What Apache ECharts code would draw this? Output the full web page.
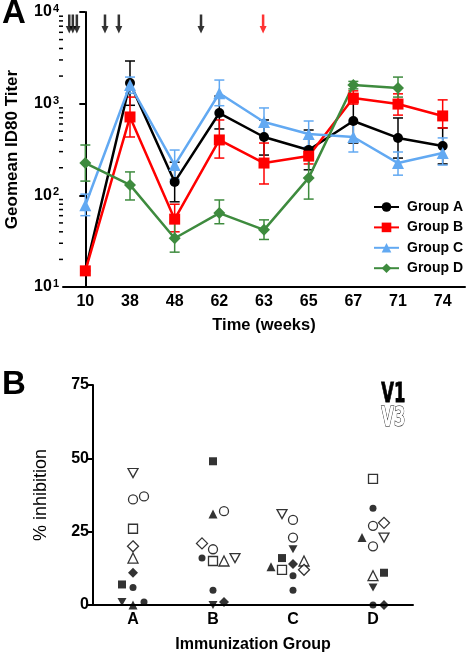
<!DOCTYPE html>
<html><head><meta charset="utf-8">
<script src="https://cdn.jsdelivr.net/npm/echarts@6/dist/echarts.min.js"></script>
<style>html,body{margin:0;padding:0;background:#fff}#c{width:466px;height:655px}</style>
</head><body><div id="c"></div>
<script>
// ---------- Panel A data ----------
const weeks = ['10','38','48','62','63','65','67','71','74'];
const groupA   = [15, 1680, 140, 790, 433, 312, 647, 423, 345];
const groupAHi = [null, 2920, 230, 1210, 664, 516, 1040, 698, 543];
const groupALo = [null, 960, 85, 530, 275, 190, 372, 255, 220];
const groupB   = [15, 716, 55, 402, 225, 268, 1150, 990, 735];
const groupBHi = [null, 1180, 80, 664, 372, 330, 1380, 1280, 1100];
const groupBLo = [null, 433, 40, 255, 133, 220, 990, 750, 543];
const groupC   = [78, 1600, 214, 1300, 630, 466, 433, 225, 290];
const groupCHi = [103, 1950, 312, 1810, 898, 647, 617, 297, 423];
const groupCLo = [60, 1300, 150, 950, 440, 336, 297, 166, 214];
const groupD   = [225, 130, 34, 64, 42, 155, 1600, 1480, null];
const groupDHi = [354, 180, 51, 89, 54, 264, 1750, 1950, null];
const groupDLo = [143, 89, 24, 49, 33, 91, 1450, 1180, null];
// immunization arrows (fractional category position)
const blackArrows = [-0.36, -0.28, -0.19, 0.44, 0.75, 2.59];
const redArrows = [3.98];

// ---------- Panel B data ----------
const immGroups = ['A','B','C','D'];
const v1Circle1     = [6, 16, 10, 33];
const v1Circle2     = [1, 5, 5, 0];
const v1Square      = [7, 49, 16, 11];
const v1Triangle    = [0, 31, 13, 23];
const v1InvTriangle = [1, 0, 19, 6];
const v1Diamond     = [11, 1, 14, 0];
const v3Circle1     = [36, 32, 29, 27];
const v3Circle2     = [37, 19, 23, 20];
const v3Square      = [26, 15, 12, 43];
const v3Triangle    = [16, 15, 15, 10];
const v3InvTriangle = [45, 16, 31, 23];
const v3Diamond     = [20, 21, 12, 28];

// ---------- layout (jitter in px) ----------
const J = 11;
const jitter = {
  v1Circle1: [0, -J, 0, 0], v1Circle2: [J, 0, 0, 0], v1Square: [-J, 0, -J, J],
  v1Triangle: [0, 0, -2*J, -J], v1InvTriangle: [-J, 0, 0, 0], v1Diamond: [0, J, 0, J],
  v3Circle1: [0, J, 0, 0], v3Circle2: [J, 0, 0, 0], v3Square: [0, 0, -J, 0],
  v3Triangle: [0, J, J, 0], v3InvTriangle: [0, 2*J, -J, J], v3Diamond: [0, -J, J, J]
};

const FONT = '"Liberation Sans", Arial, sans-serif';
const BLUE = '#62A9F2', GREEN = '#3E8B3E', RED = '#FF0000';
const INV_TRI = 'path://M0,0 L10,0 L5,9 Z';
const ARROW = 'path://M3.2,0 L6.8,0 L6.8,12 L10,12 L5,20 L0,12 L3.2,12 Z';

function errSeries(color, lo, hi) {
  return {
    type: 'custom', xAxisIndex: 0, yAxisIndex: 0, z: 1, silent: true,
    data: lo.map((l, i) => [i, l, hi[i]]).filter(d => d[1] != null),
    renderItem: function (params, api) {
      const x = api.value(0);
      const p1 = api.coord([x, api.value(2)]), p2 = api.coord([x, api.value(1)]);
      const w = 5, st = { stroke: color, lineWidth: 1.5 };
      return { type: 'group', children: [
        { type: 'line', shape: { x1: p1[0], y1: p1[1], x2: p2[0], y2: p2[1] }, style: st },
        { type: 'line', shape: { x1: p1[0]-w, y1: p1[1], x2: p1[0]+w, y2: p1[1] }, style: st },
        { type: 'line', shape: { x1: p2[0]-w, y1: p2[1], x2: p2[0]+w, y2: p2[1] }, style: st }
      ]};
    }
  };
}
function lineSeries(name, data, color, symbol, size) {
  return {
    name, type: 'line', xAxisIndex: 0, yAxisIndex: 0, data, z: 3,
    symbol, symbolSize: size, showSymbol: true,
    lineStyle: { color, width: 2.5 }, itemStyle: { color },
    connectNulls: false
  };
}
// minor log ticks on the y axis of panel A
const minorVals = [];
[10, 100, 1000].forEach(d => { for (let k = 2; k <= 9; k++) minorVals.push(k * d); });

function scatterSeries(key, data, symbol, size, filled) {
  return {
    type: 'scatter', xAxisIndex: 2, yAxisIndex: 2, z: 5, symbol, symbolSize: size,
    data: data.map((v, i) => ({ value: [i, v], symbolOffset: [jitter[key][i], 0] })),
    itemStyle: filled ? { color: '#000' } : { color: '#fff', borderColor: '#000', borderWidth: 1.3 }
  };
}

const chart = echarts.init(document.getElementById('c'), null, { renderer: 'canvas' });
const option = {
  animation: false,
  backgroundColor: '#fff',
  title: [
    { text: 'A', left: 2, top: -3, padding: 0, textStyle: { fontSize: 33, fontWeight: 'bold', fontFamily: FONT, color: '#000' } },
    { text: 'B', left: 2, top: 368, padding: 0, textStyle: { fontSize: 33, fontWeight: 'bold', fontFamily: FONT, color: '#000' } }
  ],
  legend: {
    data: ['Group A', 'Group B', 'Group C', 'Group D'],
    orient: 'vertical', left: 368, top: 195, itemWidth: 25, itemHeight: 12, itemGap: 6.4,
    textStyle: { fontSize: 14, fontWeight: 'bold', fontFamily: FONT, color: '#000', padding: [0, 0, 0, 3] }
  },
  grid: [
    { left: 63, top: 12, width: 402, height: 275, outerBoundsMode: 'none', containLabel: false },
    { left: 93, top: 385, width: 320, height: 220, outerBoundsMode: 'none', containLabel: false }
  ],
  xAxis: [
    { type: 'category', gridIndex: 0, data: weeks, boundaryGap: true,
      name: 'Time (weeks)', nameLocation: 'middle', nameGap: 30,
      nameTextStyle: { fontSize: 16.5, fontWeight: 'bold', fontFamily: FONT, color: '#000' },
      axisLine: { lineStyle: { color: '#000', width: 2 } },
      axisTick: { alignWithLabel: true, length: 4, lineStyle: { width: 2, color: '#000' } },
      axisLabel: { fontSize: 16, fontWeight: 'bold', fontFamily: FONT, color: '#000', margin: 7 },
      splitLine: { show: false } },
    { type: 'value', gridIndex: 0, min: -0.5, max: 8.5, show: false },
    { type: 'category', gridIndex: 1, data: immGroups, boundaryGap: true,
      name: 'Immunization Group', nameLocation: 'middle', nameGap: 32,
      nameTextStyle: { fontSize: 16, fontWeight: 'bold', fontFamily: FONT, color: '#000' },
      axisLine: { lineStyle: { color: '#000', width: 2 } },
      axisTick: { alignWithLabel: true, length: 4, lineStyle: { width: 2, color: '#000' } },
      axisLabel: { fontSize: 16, fontWeight: 'bold', fontFamily: FONT, color: '#000', margin: 7 },
      splitLine: { show: false } }
  ],
  yAxis: [
    { type: 'log', gridIndex: 0, logBase: 10, min: 10, max: 10000,
      name: 'Geomean ID80 Titer', nameLocation: 'middle', nameGap: 42, nameRotate: 90,
      nameTextStyle: { fontSize: 17, fontWeight: 'bold', fontFamily: FONT, color: '#000' },
      axisLine: { show: true, lineStyle: { color: '#000', width: 2 } },
      axisTick: { show: true, length: 6, lineStyle: { width: 2, color: '#000' } },
      axisLabel: { color: '#000', margin: 4,
        formatter: v => '{b|10}{s|' + Math.round(Math.log10(v)) + '}',
        rich: { b: { fontSize: 16, fontWeight: 'bold', fontFamily: FONT, color: '#000' },
                s: { fontSize: 11, fontWeight: 'bold', fontFamily: FONT, color: '#000', verticalAlign: 'top', padding: [0, 0, 6, 1] } } },
      splitLine: { show: false } },
    { type: 'log', gridIndex: 0, min: 10, max: 10000, show: false },
    { type: 'value', gridIndex: 1, min: 0, max: 75, interval: 25,
      name: '% inhibition', nameLocation: 'middle', nameGap: 43, nameRotate: 90,
      nameTextStyle: { fontSize: 18, fontFamily: FONT, color: '#000' },
      axisLine: { show: true, lineStyle: { color: '#000', width: 2 } },
      axisTick: { show: true, length: 5, lineStyle: { width: 2, color: '#000' } },
      axisLabel: { fontSize: 16, fontWeight: 'bold', fontFamily: FONT, color: '#000', margin: 4 },
      splitLine: { show: false } }
  ],
  graphic: [
    { type: 'text', left: 381, top: 382, scaleX: 0.7,
      style: { text: 'V1', font: 'bold 26px "DejaVu Sans Condensed", sans-serif', fill: '#000', stroke: '#000', lineWidth: 0.8 } },
    { type: 'text', left: 381, top: 406, scaleX: 0.7,
      style: { text: 'V3', font: 'bold 26px "DejaVu Sans Condensed", sans-serif', fill: '#fff', stroke: '#000', lineWidth: 1 } }
  ],
  series: [
    errSeries('#000', groupALo, groupAHi),
    errSeries(RED, groupBLo, groupBHi),
    errSeries(BLUE, groupCLo, groupCHi),
    errSeries(GREEN, groupDLo, groupDHi),
    lineSeries('Group A', groupA, '#000', 'circle', 10),
    lineSeries('Group B', groupB, RED, 'rect', 11),
    lineSeries('Group C', groupC, BLUE, 'triangle', 12),
    lineSeries('Group D', groupD, GREEN, 'diamond', 12),
    { type: 'custom', xAxisIndex: 1, yAxisIndex: 0, silent: true, z: 6, clip: false,
      data: minorVals,
      renderItem: function (params, api) {
        const p = api.coord([-0.5, api.value(0)]);
        return { type: 'line', shape: { x1: p[0] - 4, y1: p[1], x2: p[0], y2: p[1] }, style: { stroke: '#000', lineWidth: 1.5 } };
      },
      encode: { y: 0 } },
    { type: 'scatter', xAxisIndex: 1, yAxisIndex: 0, symbol: ARROW, symbolSize: [7, 19], z: 6,
      data: blackArrows.map(x => [x, 7400]), itemStyle: { color: '#000' } },
    { type: 'scatter', xAxisIndex: 1, yAxisIndex: 0, symbol: ARROW, symbolSize: [7, 19], z: 6,
      data: redArrows.map(x => [x, 7400]), itemStyle: { color: RED } },
    scatterSeries('v1Circle1', v1Circle1, 'circle', 7, true),
    scatterSeries('v1Circle2', v1Circle2, 'circle', 7, true),
    scatterSeries('v1Square', v1Square, 'rect', 8, true),
    scatterSeries('v1Triangle', v1Triangle, 'triangle', 9, true),
    scatterSeries('v1InvTriangle', v1InvTriangle, INV_TRI, [9, 8], true),
    scatterSeries('v1Diamond', v1Diamond, 'diamond', 10, true),
    scatterSeries('v3Circle1', v3Circle1, 'circle', 9, false),
    scatterSeries('v3Circle2', v3Circle2, 'circle', 9, false),
    scatterSeries('v3Square', v3Square, 'rect', 9, false),
    scatterSeries('v3Triangle', v3Triangle, 'triangle', 10, false),
    scatterSeries('v3InvTriangle', v3InvTriangle, INV_TRI, [10, 9], false),
    scatterSeries('v3Diamond', v3Diamond, 'diamond', 11, false)
  ]
};
chart.setOption(option);
</script>
</body></html>
